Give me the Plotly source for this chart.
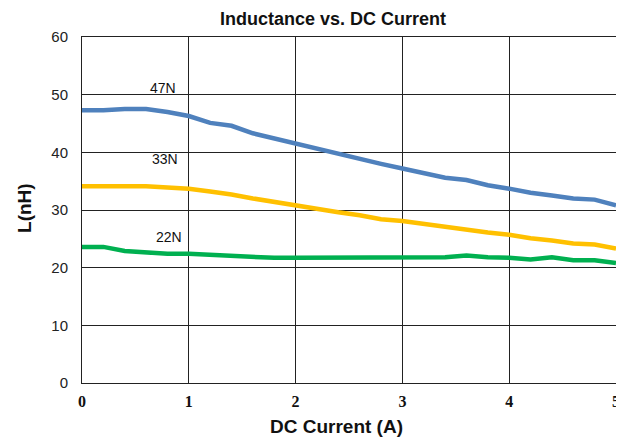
import plotly.graph_objects as go

# DC current (A)
current = [0.0, 0.2, 0.4, 0.6, 0.8, 1.0, 1.2, 1.4, 1.6, 1.8, 2.0, 2.2, 2.4,
           2.6, 2.8, 3.0, 3.2, 3.4, 3.6, 3.8, 4.0, 4.2, 4.4, 4.6, 4.8, 5.0]

# Inductance (nH)
l_47n = [47.3, 47.3, 47.5, 47.5, 47.0, 46.3, 45.1, 44.6, 43.3, 42.4, 41.5, 40.6, 39.6,
         38.7, 38.0, 37.2, 36.3, 35.6, 35.2, 34.3, 33.7, 33.0, 32.5, 32.0, 31.8, 30.8]
l_33n = [34.1, 34.1, 34.1, 34.1, 33.9, 33.7, 33.2, 32.7, 32.0, 31.4, 30.7, 30.2, 29.6,
         29.1, 28.4, 28.1, 27.6, 27.1, 26.5, 26.1, 25.7, 25.1, 24.7, 24.2, 24.0, 23.3]
l_22n = [23.6, 23.6, 22.9, 22.6, 22.4, 22.4, 22.2, 22.0, 21.9, 21.7, 21.7, 21.7, 21.7,
         21.7, 21.7, 21.7, 21.7, 21.8, 22.1, 21.8, 21.7, 21.4, 21.8, 21.3, 21.3, 20.8]

series = [
    ("47N", l_47n, "#4f81bd", 0.76, 51.2),
    ("33N", l_33n, "#ffc000", 0.78, 38.8),
    ("22N", l_22n, "#00b050", 0.81, 25.3),
]

FONT = "Arial, Liberation Sans"

fig = go.Figure()

for name, vals, color, lx, ly in series:
    fig.add_trace(go.Scatter(
        x=current, y=vals,
        mode="lines",
        name=name,
        line=dict(color=color, width=4.5),
        showlegend=False,
    ))
    fig.add_annotation(
        x=lx, y=ly, text=name, showarrow=False,
        font=dict(family=FONT, size=14, color="#111111"),
    )

# title and axis titles placed as paper annotations
fig.add_annotation(xref="paper", yref="paper", x=0.47, y=1.0, yshift=18,
                   xanchor="center", yanchor="middle",
                   text="<b>Inductance vs. DC Current</b>", showarrow=False,
                   font=dict(family=FONT, size=18, color="#111111"))
fig.add_annotation(xref="paper", yref="paper", x=0.476, y=0, yshift=-43,
                   xanchor="center", yanchor="middle",
                   text="<b>DC Current (A)</b>", showarrow=False,
                   font=dict(family=FONT, size=19, color="#111111"))
fig.add_annotation(xref="paper", yref="paper", x=0, xshift=-57, y=0.506,
                   xanchor="center", yanchor="middle",
                   text="<b>L(nH)</b>", showarrow=False, textangle=-90,
                   font=dict(family=FONT, size=19, color="#111111"))

# the page body adds an 8px offset, so the figure is sized to fit the window
fig.update_layout(
    width=616, height=439,
    margin=dict(l=74, r=8, t=29, b=64, autoexpand=False),
    paper_bgcolor="white",
    plot_bgcolor="white",
    xaxis=dict(
        range=[0, 5], dtick=1, tick0=0, automargin=False,
        showgrid=True, gridcolor="#222222", gridwidth=1,
        showline=True, linecolor="#222222", linewidth=1, mirror=True,
        zeroline=False, ticks="outside", ticklen=4, tickcolor="rgba(0,0,0,0)",
        ticklabeloverflow="allow",
        tickfont=dict(family="Times New Roman, Liberation Serif", size=16, color="#111111"),
        tickprefix="<b>", ticksuffix="</b>",
    ),
    yaxis=dict(
        range=[0, 60], dtick=10, tick0=0, automargin=False,
        showgrid=True, gridcolor="#222222", gridwidth=1,
        showline=True, linecolor="#222222", linewidth=1, mirror=True,
        zeroline=False, ticks="outside", ticklen=10, tickcolor="rgba(0,0,0,0)",
        tickfont=dict(family=FONT, size=15, color="#222222"),
    ),
)

fig.write_html("out.html")
